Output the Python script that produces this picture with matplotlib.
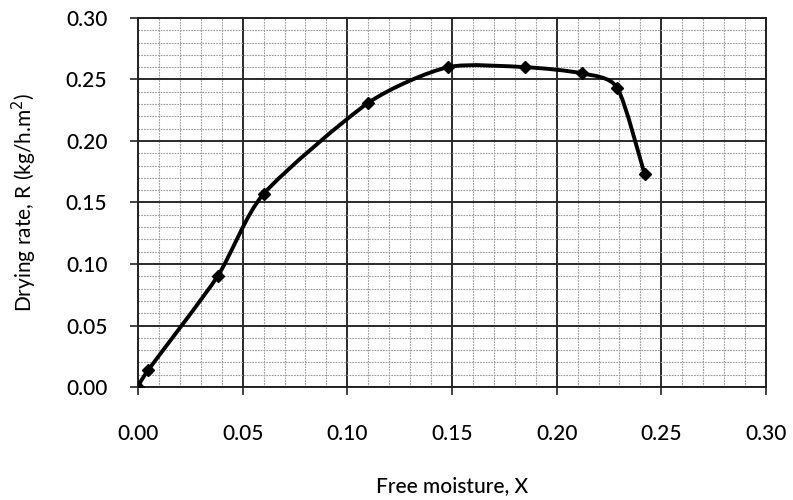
import matplotlib
matplotlib.use("Agg")
import matplotlib.pyplot as plt
from matplotlib.path import Path
from matplotlib.patches import PathPatch
from matplotlib.ticker import MultipleLocator, FormatStrFormatter

# data
free_moisture = [0.000, 0.005, 0.038, 0.060, 0.110, 0.148, 0.185, 0.212, 0.229, 0.242]
drying_rate = [0.000, 0.014, 0.090, 0.157, 0.231, 0.260, 0.260, 0.255, 0.243, 0.173]


def smooth_path(xs, ys, tension=0.12):
    """Catmull-Rom style bezier path through the points (like a spreadsheet smoothed line)"""
    verts = [(xs[0], ys[0])]
    codes = [Path.MOVETO]
    n = len(xs)
    for i in range(n - 1):
        x0, y0 = (xs[i - 1], ys[i - 1]) if i > 0 else (xs[i], ys[i])
        x1, y1 = xs[i], ys[i]
        x2, y2 = xs[i + 1], ys[i + 1]
        x3, y3 = (xs[i + 2], ys[i + 2]) if i + 2 < n else (x2, y2)
        c1 = (x1 + (x2 - x0) * tension, y1 + (y2 - y0) * tension)
        c2 = (x2 - (x3 - x1) * tension, y2 - (y3 - y1) * tension)
        verts += [c1, c2, (x2, y2)]
        codes += [Path.CURVE4] * 3
    return Path(verts, codes)


plt.rcParams["font.family"] = ["Lato", "DejaVu Sans"]
plt.rcParams["font.weight"] = "medium"

fig = plt.figure(figsize=(7.93, 5.0), dpi=100)
ax = fig.add_axes([0.174, 0.226, 0.792, 0.738])

ax.set_xlim(0, 0.30)
ax.set_ylim(0, 0.30)
ax.xaxis.set_major_locator(MultipleLocator(0.05))
ax.yaxis.set_major_locator(MultipleLocator(0.05))
ax.xaxis.set_minor_locator(MultipleLocator(0.01))
ax.yaxis.set_minor_locator(MultipleLocator(0.01))
ax.xaxis.set_major_formatter(FormatStrFormatter("%.2f"))
ax.yaxis.set_major_formatter(FormatStrFormatter("%.2f"))

ax.grid(which="minor", color="#9a9a9a", linewidth=0.8, linestyle=(0, (1.5, 1)))
ax.grid(which="major", color="#2a2a2a", linewidth=1.4)
ax.set_axisbelow(True)

for side in ax.spines.values():
    side.set_color("#222222")
    side.set_linewidth(1.4)

ax.tick_params(which="major", direction="out", length=6, width=1.2,
               colors="#222222", labelsize=15, labelcolor="black")
ax.tick_params(axis="x", which="major", pad=21)
ax.tick_params(axis="y", which="major", pad=16)
ax.tick_params(which="minor", length=0)

ax.add_patch(PathPatch(smooth_path(free_moisture, drying_rate),
                       facecolor="none", edgecolor="black", linewidth=2.8,
                       zorder=3))
ax.plot(free_moisture, drying_rate, linestyle="none", marker="D",
        markersize=6.5, color="black", zorder=4)

ax.set_ylabel("Drying rate, R (kg/h.m$^2$)", fontsize=15, labelpad=19)
fig.text(0.57, 0.016, "Free moisture, X", fontsize=15, ha="center")

fig.savefig("out.png", dpi=100)
